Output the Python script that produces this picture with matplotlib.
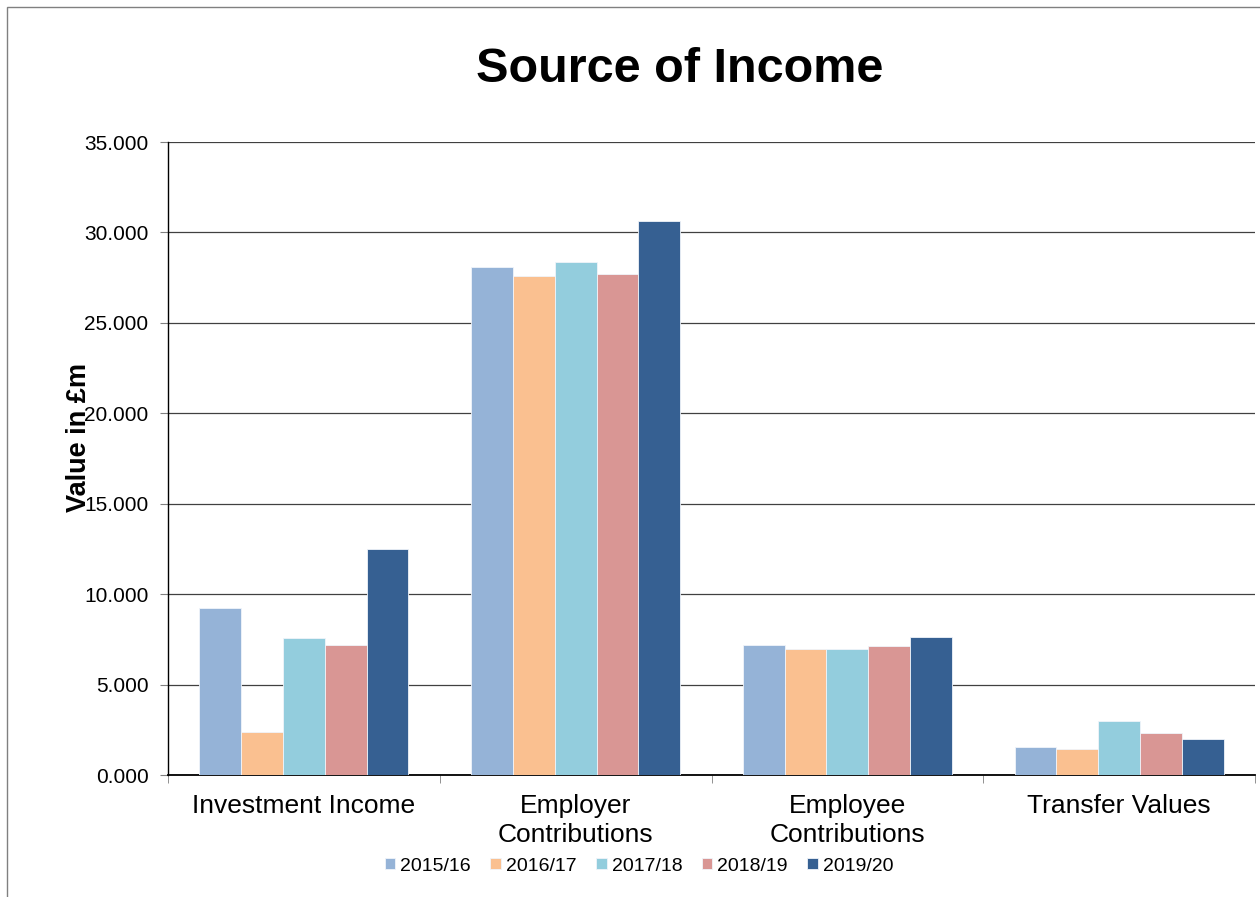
import matplotlib
matplotlib.use("Agg")
import matplotlib.pyplot as plt
import numpy as np
from matplotlib.patches import Rectangle

plt.rcParams['font.family'] = ['Liberation Sans', 'DejaVu Sans']

categories = ["Investment Income", "Employer\nContributions", "Employee\nContributions", "Transfer Values"]
years = ["2015/16", "2016/17", "2017/18", "2018/19", "2019/20"]
values_2015 = [9.22, 28.11, 7.19, 1.57]
values_2016 = [2.39, 27.59, 6.95, 1.44]
values_2017 = [7.56, 28.36, 6.98, 2.97]
values_2018 = [7.21, 27.72, 7.13, 2.30]
values_2019 = [12.51, 30.63, 7.61, 1.99]
series = [values_2015, values_2016, values_2017, values_2018, values_2019]
colors = ["#95B3D7", "#FAC090", "#93CDDD", "#D99694", "#366092"]
yticks = [0, 5, 10, 15, 20, 25, 30, 35]

W, H = 1260, 897
fig = plt.figure(figsize=(W / 100, H / 100), dpi=100)
fig.patches.append(Rectangle((7 / W, -0.1), 1.2, 1 - 7 / H + 0.1, transform=fig.transFigure,
                             fill=False, edgecolor="#808080", linewidth=1.0))

left, right, top, bottom = 168, 1255, 142, 775
ax = fig.add_axes([left / W, 1 - bottom / H, (right - left) / W, (bottom - top) / H])

n = len(series)
bw = 1.0 / (n + 1.5)
x = np.arange(len(categories))
for i, (vals, c, lab) in enumerate(zip(series, colors, years)):
    ax.bar(x + (i - (n - 1) / 2) * bw, vals, width=bw, color=c, edgecolor="#f0f4fa",
           linewidth=0.6, label=lab, zorder=3)

ax.set_xlim(-0.5, len(categories) - 0.5)
ax.set_ylim(0, 35)
ax.set_yticks(yticks)
ax.set_yticklabels([f"{v:.3f}" for v in yticks], fontsize=15)
ax.yaxis.grid(True, color="#404040", linewidth=0.9, zorder=0)
ax.set_axisbelow(True)
ax.tick_params(axis='y', length=6, color="#808080", pad=8)

ax.set_xticks(x)
ax.set_xticklabels(categories, fontsize=19, linespacing=1.25)
ax.tick_params(axis='x', length=0, pad=14)
ax.set_xticks(np.arange(len(categories) + 1) - 0.5, minor=True)
ax.tick_params(axis='x', which='minor', length=6, color="#808080")

for s in ["top", "right"]:
    ax.spines[s].set_visible(False)
ax.spines["left"].set_color("black")
ax.spines["bottom"].set_color("black")
ax.spines["left"].set_linewidth(1.0)
ax.spines["bottom"].set_linewidth(1.3)

fig.text(680 / W, 1 - 70 / H, "Source of Income", fontsize=35, fontweight="bold",
         ha="center", va="center")
fig.text(79 / W, 1 - 437 / H, "Value in £m", fontsize=19.5, fontweight="bold",
         rotation=90, ha="center", va="center")

fig.legend(loc="center", bbox_to_anchor=(639 / W, 1 - 866 / H), ncol=5, frameon=False,
           fontsize=14, handlelength=0.55, handleheight=0.55, handletextpad=0.25,
           columnspacing=1.0)

fig.savefig("out.png", dpi=100)
